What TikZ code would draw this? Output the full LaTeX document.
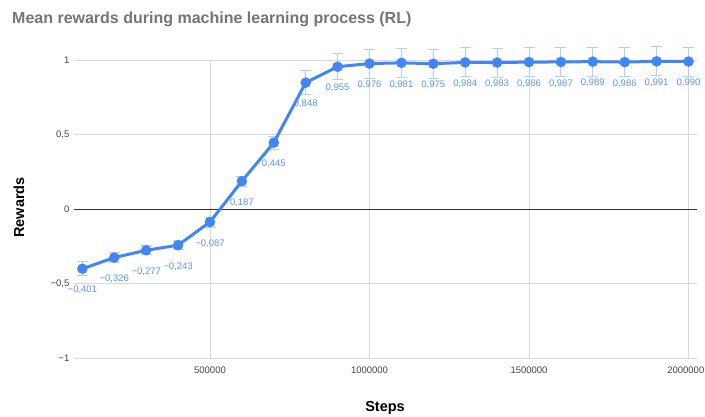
\documentclass[tikz,border=0pt]{standalone}
\usepackage{fontspec}
\setmainfont{Liberation Sans}
\definecolor{gblue}{HTML}{4285F4}
\definecolor{lblue}{HTML}{B3CDF9}
\definecolor{labc}{HTML}{5A95F5}
\definecolor{gridc}{HTML}{D9D9D9}
\definecolor{titlec}{HTML}{757575}
\definecolor{zeroc}{HTML}{333333}
\definecolor{tickc}{HTML}{444444}
\tikzset{
  gridline/.style={draw=gridc, line width=0.8pt},
  zeroline/.style={draw=zeroc, line width=0.9pt},
  ticklab/.style={text=tickc, font=\fontsize{9.5}{11}\selectfont, inner sep=0pt},
  errbar/.style={draw=lblue, line width=0.9pt},
  series/.style={draw=gblue, line width=3pt, line join=round, line cap=round},
  marker/.style={fill=gblue},
  dlabel/.style={text=labc, font=\fontsize{9.5}{11}\selectfont, inner sep=0pt},
  axtitle/.style={text=black, font=\bfseries\fontsize{14.5}{17}\selectfont, inner sep=0pt},
}
\def\data{1/-0.401/7/{−0,401},2/-0.326/5/{−0,326},3/-0.277/4.5/{−0,277},4/-0.243/4.5/{−0,243},5/-0.087/5/{−0,087},6/0.187/5/{0,187},7/0.445/6.5/{0,445},8/0.848/12/{0,848},9/0.955/13/{0,955},10/0.976/14.5/{0,976},11/0.981/14.5/{0,981},12/0.975/14.5/{0,975},13/0.984/14.5/{0,984},14/0.983/14.5/{0,983},15/0.986/14.5/{0,986},16/0.987/14.5/{0,987},17/0.989/14.5/{0,989},18/0.986/14.5/{0,986},19/0.991/14.5/{0,991},20/0.990/14.5/{0,990}}
\begin{document}
\begin{tikzpicture}[x=1pt,y=-1pt]
\useasboundingbox (0,0) rectangle (705,416);
\fill[white] (0,0) rectangle (705,416);
% title
\node[anchor=base west, text=titlec, font=\bfseries\fontsize{16}{19}\selectfont, inner sep=0pt] (title) at (12,23) {Mean rewards during machine learning process (RL)};
% grid
\foreach \v in {1,0.5,-0.5,-1} \draw[gridline] (74,{209-149*\v}) -- (697,{209-149*\v});
\foreach \k in {5,10,15,20} \draw[gridline] ({210+(\k-5)*31.9},60) -- ({210+(\k-5)*31.9},358);
\draw[zeroline] (74,209) -- (697,209);
% y tick labels
\foreach \v/\t in {1/1,0.5/{0,5},0/0,-0.5/{−0,5},-1/{−1}}
  \node[ticklab, anchor=east] (yt\v) at (69.5,{209-149*\v}) {\t};
% x tick labels
\foreach \k/\t in {5/500000,10/1000000,15/1500000}
  \node[ticklab] (xt\k) at ({210+(\k-5)*31.9},370) {\t};
\node[ticklab, anchor=east] (xt20) at (704.5,370) {2000000};
% axis titles
\node[axtitle, rotate=90] (ylab) at (19,207.5) {Rewards};
\node[axtitle, anchor=base] (xlab) at (385,411) {Steps};
% points and error bars
\foreach \k/\v/\e/\t in \data {
  \coordinate (p\k) at ({210+(\k-5)*31.9},{209-149*\v});
  \draw[errbar] ([yshift=-\e pt]p\k) -- ([yshift=\e pt]p\k);
  \draw[errbar] ([xshift=-5.5pt,yshift=\e pt]p\k) -- ([xshift=5.5pt,yshift=\e pt]p\k);
  \draw[errbar] ([xshift=-5.5pt,yshift=-\e pt]p\k) -- ([xshift=5.5pt,yshift=-\e pt]p\k);
}
% series line
\draw[series] (p1) \foreach \k in {2,...,20}{ -- (p\k)};
% markers and labels
\foreach \k/\v/\e/\t in \data {
  \fill[marker] (p\k) circle (5.3pt);
  \node[dlabel] (l\k) at ([yshift=-21.5pt]p\k) {\t};
}
\end{tikzpicture}
\end{document}
